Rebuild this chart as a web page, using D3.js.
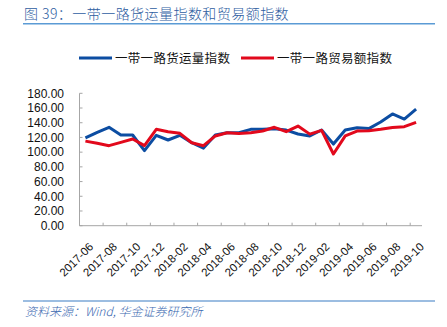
<!DOCTYPE html>
<html><head><meta charset="utf-8">
<script src="https://cdn.jsdelivr.net/npm/d3@7"></script>
<style>
html,body{margin:0;padding:0;background:#fff;}
svg{display:block;}
</style></head>
<body>
<svg id="chart" width="447" height="327"></svg>
<script>
const months = ["2017-06","2017-07","2017-08","2017-09","2017-10","2017-11","2017-12","2018-01","2018-02","2018-03","2018-04","2018-05","2018-06","2018-07","2018-08","2018-09","2018-10","2018-11","2018-12","2019-01","2019-02","2019-03","2019-04","2019-05","2019-06","2019-07","2019-08","2019-09","2019-10"];
const freightIndex = [119.5,127,133.8,123.3,123.3,102,122.9,116.5,122.9,112.8,105.5,123.3,126.4,126.4,131,131,131.9,130,124.7,122,130.1,111,130.1,133.2,132,141,152,145,158.4];
const tradeIndex = [115,112,108.8,113.3,117.9,108.8,131,127.8,125.6,112.8,108.8,122,126.4,125.5,126.4,128.7,133.8,127.8,135.5,124.5,129.6,97.5,122.2,128.7,129.2,131,133.5,134.6,140.5];
const yTicks = [0,20,40,60,80,100,120,140,160,180];
const seriesNames = ["一带一路货运量指数","一带一路贸易额指数"];
const titleText = "图 39：一带一路货运量指数和贸易额指数";
const sourceText = "资料来源：Wind, 华金证券研究所";

const svg = d3.select("#chart");
const blue = "#0C4DA2", red = "#E2091C", axisCol = "#a6a6a6";
const cjk = "'Noto Sans CJK SC','Liberation Sans',sans-serif";
const num = "'Liberation Sans',Arial,sans-serif";

// title
svg.append("text").attr("x",24).attr("y",19).text(titleText)
  .attr("font-family",cjk).attr("font-size",14).attr("font-weight",300).attr("letter-spacing",0.45).attr("fill","#2E5D9F");
svg.append("line").attr("x1",23).attr("x2",435).attr("y1",23.8).attr("y2",23.8)
  .attr("stroke","#5B9BD5").attr("stroke-width",1.6);

// scales
const x = d3.scaleBand().domain(months).range([79.5,422]).paddingInner(0).paddingOuter(0);
const y = d3.scaleLinear().domain([0,180]).range([225.7,93.3]);
const bw = x.bandwidth();

// y axis
const gy = svg.append("g");
gy.append("line").attr("x1",79.5).attr("x2",79.5).attr("y1",y(180)).attr("y2",y(0)).attr("stroke",axisCol);
gy.selectAll("line.t").data(yTicks).enter().append("line").attr("class","t")
  .attr("x1",79.5).attr("x2",82.5).attr("y1",d=>y(d)).attr("y2",d=>y(d)).attr("stroke",axisCol);
gy.selectAll("text").data(yTicks).enter().append("text")
  .attr("x",64).attr("y",d=>y(d)).attr("dy","0.36em").attr("text-anchor","end")
  .attr("font-family",num).attr("font-size",12).attr("fill","#111").text(d=>d.toFixed(2));

// x axis
const gx = svg.append("g");
gx.append("line").attr("x1",79.5).attr("x2",422).attr("y1",y(0)).attr("y2",y(0)).attr("stroke",axisCol);
const labeled = months.filter((d,i)=>i%2===0);
gx.selectAll("line.t").data(labeled).enter().append("line").attr("class","t")
  .attr("x1",d=>x(d)).attr("x2",d=>x(d)).attr("y1",y(0)).attr("y2",y(0)-3).attr("stroke",axisCol);
gx.selectAll("text").data(labeled).enter().append("text")
  .attr("transform",d=>`translate(${x(d)+bw/2+3},${y(0)+16}) rotate(-45)`)
  .attr("text-anchor","end").attr("dy","0.7em")
  .attr("font-family",num).attr("font-size",11.5).attr("fill","#111").text(d=>d);

// lines
const line = d3.line().x((d,i)=>x(months[i])+bw/2).y(d=>y(d));
svg.append("path").datum(freightIndex).attr("d",line).attr("fill","none")
  .attr("stroke",blue).attr("stroke-width",3).attr("stroke-linejoin","round");
svg.append("path").datum(tradeIndex).attr("d",line).attr("fill","none")
  .attr("stroke",red).attr("stroke-width",3).attr("stroke-linejoin","round");

// legend
const legend = [{name:seriesNames[0],color:blue,x:79},{name:seriesNames[1],color:red,x:241}];
const lg = svg.selectAll("g.lg").data(legend).enter().append("g").attr("class","lg");
lg.append("line").attr("x1",d=>d.x).attr("x2",d=>d.x+33).attr("y1",58).attr("y2",58)
  .attr("stroke",d=>d.color).attr("stroke-width",3);
lg.append("text").attr("x",d=>d.x+36).attr("y",58).attr("dy","0.36em")
  .attr("font-family",cjk).attr("font-size",12.5).attr("letter-spacing",0.3).attr("fill","#111").text(d=>d.name);

// footer
svg.append("line").attr("x1",23).attr("x2",435).attr("y1",301).attr("y2",301)
  .attr("stroke","#3A7CC4").attr("stroke-width",1.2);
svg.append("text").attr("x",25).attr("y",316).text(sourceText)
  .attr("font-family",cjk).attr("font-size",12).attr("font-weight",300).attr("font-style","italic").attr("fill","#3A68B0");
</script>
</body></html>
